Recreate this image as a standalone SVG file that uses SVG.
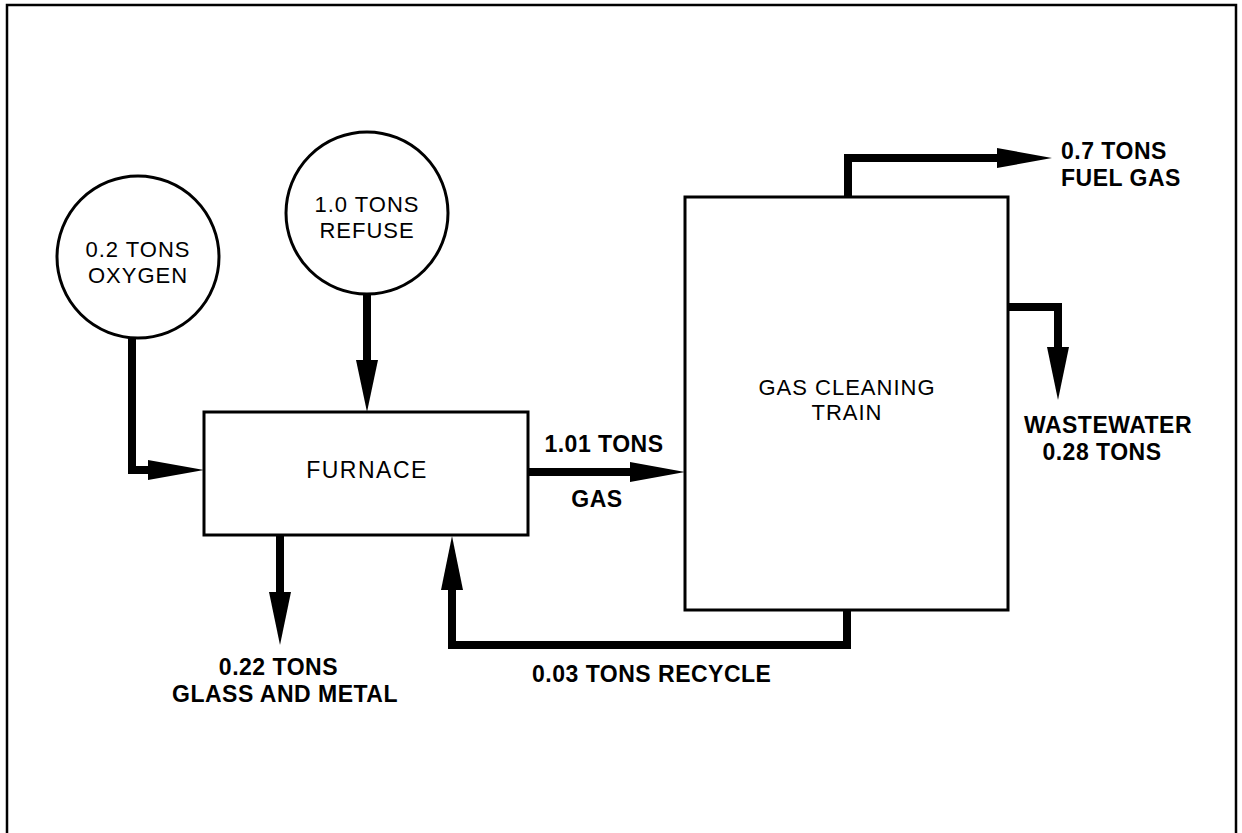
<svg xmlns="http://www.w3.org/2000/svg" width="1242" height="833" viewBox="0 0 1242 833">
  <style>
    .shape { fill: #ffffff; stroke: #000000; stroke-width: 3; }
    .flow { fill: none; stroke: #000000; stroke-width: 8; stroke-linejoin: miter; stroke-linecap: butt; }
    .head { fill: #000000; stroke: none; }
    .lbl { font-family: "Liberation Sans", Arial, sans-serif; font-size: 22px; letter-spacing: 1px; fill: #000000; }
    .flbl { font-family: "Liberation Sans", Arial, sans-serif; font-size: 23px; font-weight: bold; letter-spacing: 0.5px; fill: #000000; }
  </style>
  <rect width="1242" height="833" fill="#ffffff"/>
  <path d="M7,840 V5 H1236 V840" fill="none" stroke="#000000" stroke-width="2.5"/>

  <g id="connectors">
    <!-- oxygen to furnace -->
    <path class="flow" d="M132,338 V470 H152"/>
    <polygon class="head" points="148,460 204,470 148,480"/>
    <!-- refuse to furnace -->
    <path class="flow" d="M367,293 V364"/>
    <polygon class="head" points="356,360 378,360 367,412"/>
    <!-- furnace to gas cleaning train -->
    <path class="flow" d="M528,472 H634"/>
    <polygon class="head" points="630,462 685,472 630,482"/>
    <!-- fuel gas -->
    <path class="flow" d="M848,197 V158 H1000"/>
    <polygon class="head" points="997,148 1052,158 997,168"/>
    <!-- wastewater -->
    <path class="flow" d="M1008,307 H1058 V351"/>
    <polygon class="head" points="1047,347 1069,347 1058,400"/>
    <!-- recycle -->
    <path class="flow" d="M847,610 V645 H452 V586"/>
    <polygon class="head" points="441,590 463,590 452,536"/>
    <!-- glass and metal -->
    <path class="flow" d="M280,535 V596"/>
    <polygon class="head" points="269,592 291,592 280,645"/>
  </g>

  <g id="oxygen">
    <circle class="shape" cx="138" cy="257" r="81"/>
    <text class="lbl" x="138" y="257" text-anchor="middle">0.2 TONS</text>
    <text class="lbl" x="138" y="283" text-anchor="middle">OXYGEN</text>
  </g>

  <g id="refuse">
    <circle class="shape" cx="367" cy="213" r="81"/>
    <text class="lbl" x="367" y="212" text-anchor="middle">1.0 TONS</text>
    <text class="lbl" x="367" y="238" text-anchor="middle">REFUSE</text>
  </g>

  <g id="furnace">
    <rect class="shape" x="204" y="412" width="324" height="123"/>
    <text class="lbl" x="367" y="478" text-anchor="middle" style="font-size:23px;letter-spacing:1.5px">FURNACE</text>
  </g>

  <g id="gas-cleaning-train">
    <rect class="shape" x="685" y="197" width="323" height="413"/>
    <text class="lbl" x="847" y="395" text-anchor="middle">GAS CLEANING</text>
    <text class="lbl" x="847" y="420" text-anchor="middle">TRAIN</text>
  </g>

  <g id="labels">
    <text class="flbl" x="604" y="452" text-anchor="middle">1.01 TONS</text>
    <text class="flbl" x="597" y="507" text-anchor="middle">GAS</text>
    <text class="flbl" x="1061" y="159">0.7 TONS</text>
    <text class="flbl" x="1061" y="186">FUEL GAS</text>
    <text class="flbl" x="1108" y="433" text-anchor="middle">WASTEWATER</text>
    <text class="flbl" x="1102" y="460" text-anchor="middle">0.28 TONS</text>
    <text class="flbl" x="532" y="682">0.03 TONS RECYCLE</text>
    <text class="flbl" x="338" y="675" text-anchor="end">0.22 TONS</text>
    <text class="flbl" x="398" y="702" text-anchor="end">GLASS AND METAL</text>
  </g>
</svg>
